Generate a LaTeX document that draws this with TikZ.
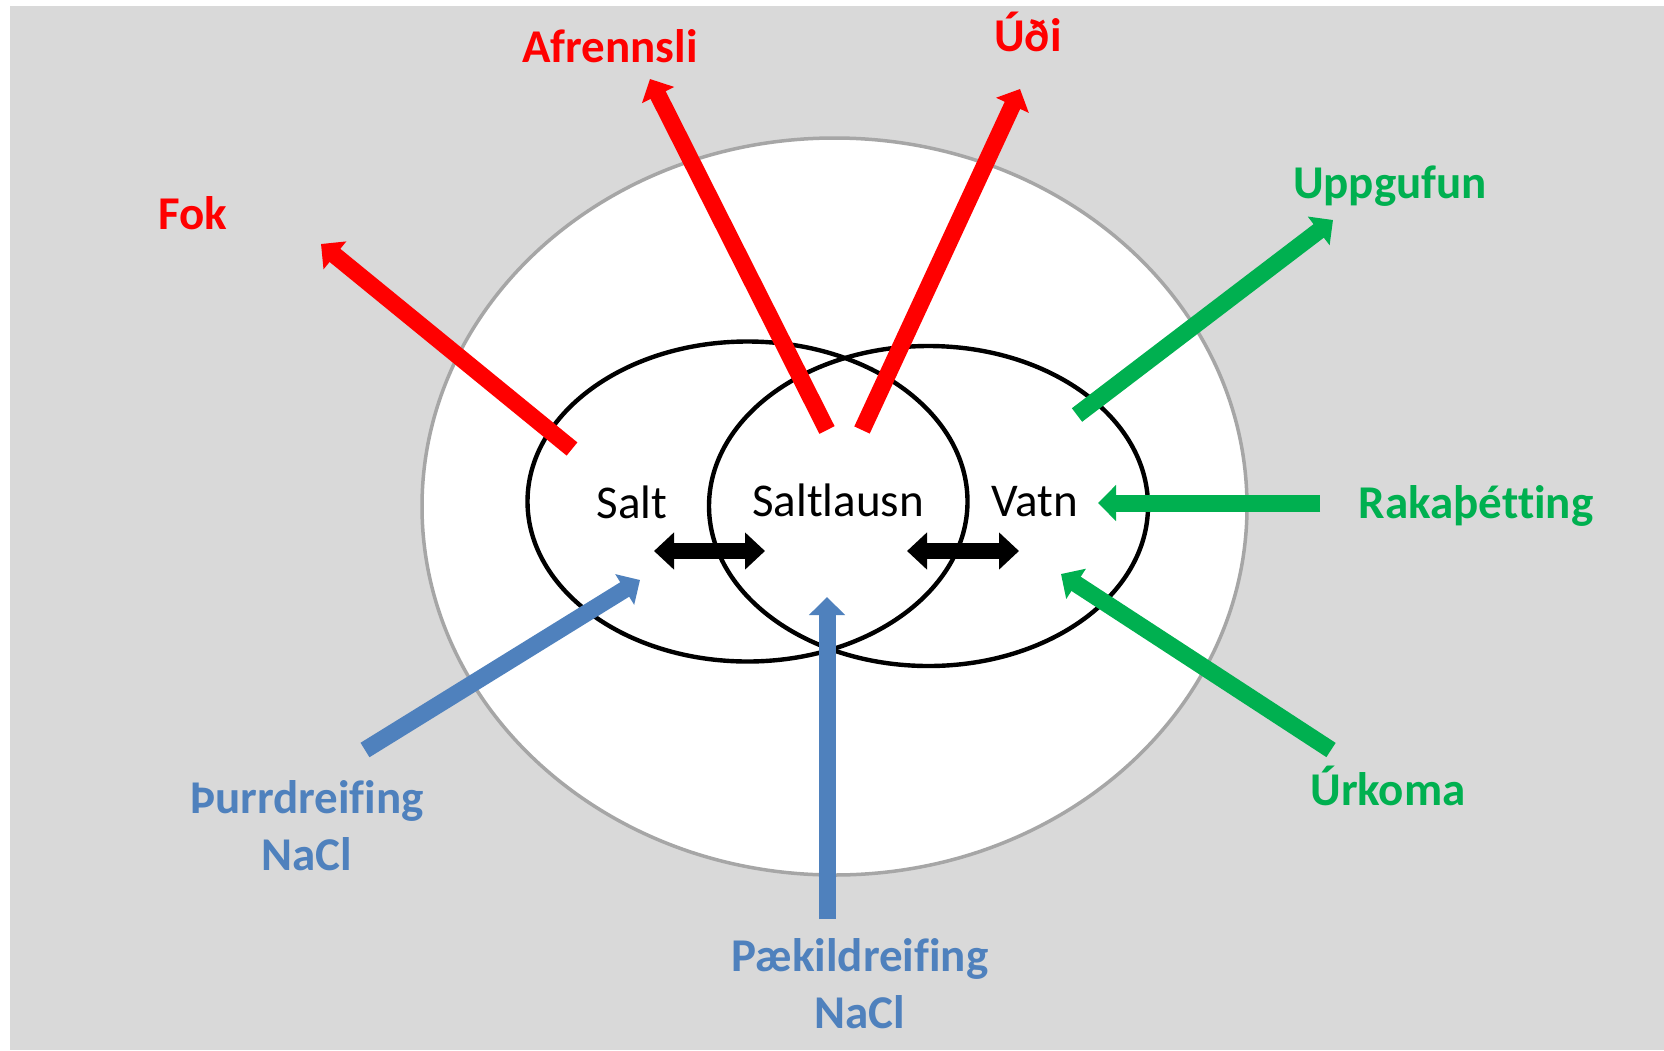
\documentclass[tikz,border=0pt]{standalone}
\usepackage{fontspec}
\setmainfont{Carlito}[Ligatures={NoCommon}]
\usetikzlibrary{arrows.meta,shapes.geometric}
\definecolor{bggray}{HTML}{D9D9D9}
\definecolor{ringgray}{HTML}{A6A6A6}
\definecolor{lossred}{HTML}{FF0000}
\definecolor{wetgreen}{HTML}{00B050}
\definecolor{saltblue}{HTML}{4F81BD}
\tikzset{
  inner/.style={draw=black, line width=2.2pt, ellipse, inner sep=0pt},
  word/.style={font=\fontsize{23.5}{28.5}\selectfont, anchor=base, inner sep=0pt},
  lbl/.style={font=\bfseries\fontsize{23.5}{28.5}\selectfont, anchor=base, inner sep=0pt, align=center},
  flow/.style={line width=8.5pt, -{Triangle[width=17.5pt,length=9pt]}},
  dbl/.style={line width=8pt, {Triangle[width=18pt,length=10pt]}-{Triangle[width=18pt,length=10pt]}}
}
\begin{document}
\begin{tikzpicture}[x=0.5pt,y=-0.5pt]
\useasboundingbox (0,0) rectangle (1664,1050);
\fill[bggray] (10,6) rectangle (1664,1050);
\node[draw=ringgray, fill=white, line width=1.75pt, ellipse, inner sep=0pt,
      minimum width=412.5pt, minimum height=368.5pt] (outer) at (834.5,506.5) {};
\node[inner, minimum width=220pt, minimum height=160pt] (saltell) at (747.5,501.5) {};
\node[inner, minimum width=219.5pt, minimum height=160pt] (vatnell) at (928.5,506) {};

\node[word] (salt) at (632,518) {Salt};
\node[word] (lausn) at (838,516) {Saltlausn};
\node[word] (vatn) at (1035,516) {Vatn};

% labels
\node[lbl, text=lossred] (fok) at (193,229) {Fok};
\node[lbl, text=lossred] (afr) at (610,62) {Afrennsli};
\node[lbl, text=lossred] (udi) at (1028,51) {Úði};
\node[lbl, text=wetgreen] (upp) at (1390,198) {Uppgufun};
\node[lbl, text=wetgreen] (raka) at (1476,518) {Rakaþétting};
\node[lbl, text=wetgreen] (urk) at (1388,805) {Úrkoma};
\node[lbl, text=saltblue] (thurr) at (307,870) {Þurrdreifing\\NaCl};
\node[lbl, text=saltblue] (paek) at (860,1028) {Pækildreifing\\NaCl};

% arrow ends
\coordinate (fokA) at (572,449);   \coordinate (fokB) at (321,244);
\coordinate (afrA) at (827,430);   \coordinate (afrB) at (650,79);
\coordinate (udiA) at (862,430);   \coordinate (udiB) at (1020,89);
\coordinate (uppA) at (1077,415);  \coordinate (uppB) at (1333,220);
\coordinate (rakA) at (1320,503);  \coordinate (rakB) at (1098,503);
\coordinate (urkA) at (1331,750);  \coordinate (urkB) at (1061,574);
\coordinate (thA) at (365,750);    \coordinate (thB) at (640,580);
\coordinate (paA) at (827,919);    \coordinate (paB) at (827,597);
\coordinate (d1A) at (654,551);    \coordinate (d1B) at (765,551);
\coordinate (d2A) at (907,551);    \coordinate (d2B) at (1019,551);

\draw[flow, lossred] (fokA) -- (fokB);
\draw[flow, lossred] (afrA) -- (afrB);
\draw[flow, lossred] (udiA) -- (udiB);
\draw[flow, wetgreen] (uppA) -- (uppB);
\draw[flow, wetgreen] (rakA) -- (rakB);
\draw[flow, wetgreen] (urkA) -- (urkB);
\draw[flow, saltblue] (thA) -- (thB);
\draw[flow, saltblue] (paA) -- (paB);
\draw[dbl] (d1A) -- (d1B);
\draw[dbl] (d2A) -- (d2B);
\end{tikzpicture}
\end{document}
